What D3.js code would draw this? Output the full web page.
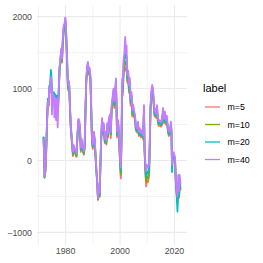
<!DOCTYPE html>
<html>
<head>
<meta charset="utf-8">
<script src="https://cdn.jsdelivr.net/npm/d3@7"></script>
<style>
  body { margin: 0; background: #fff; }
  svg text { font-family: "Liberation Sans", Arial, sans-serif; }
</style>
</head>
<body>
<svg id="chart" width="263" height="263"></svg>
<script>
// time points (decimal years), shared by all series
const years = [
  1971.9, 1972.1, 1972.3, 1972.6, 1972.9, 1973.2, 1973.5, 1973.8, 1974.0, 1974.3, 1974.6, 1974.8,
  1975.0, 1975.2, 1975.5, 1975.7, 1975.9, 1976.2, 1976.5, 1976.8, 1977.1, 1977.3, 1977.5, 1977.8,
  1978.1, 1978.4, 1978.7, 1978.9, 1979.3, 1979.6, 1979.9, 1980.2, 1980.5, 1980.8, 1981.0, 1981.3,
  1981.6, 1981.9, 1982.3, 1982.7, 1983.0, 1983.4, 1983.7, 1984.0, 1984.4, 1984.7, 1985.0, 1985.3,
  1985.6, 1985.9, 1986.3, 1986.7, 1987.0, 1987.3, 1987.6, 1987.9, 1988.2, 1988.5, 1988.8, 1989.1,
  1989.4, 1989.7, 1990.0, 1990.4, 1990.7, 1991.0, 1991.3, 1991.6, 1991.9, 1992.2, 1992.5, 1992.8,
  1993.1, 1993.4, 1993.7, 1994.0, 1994.4, 1994.7, 1995.0, 1995.3, 1995.6, 1995.9, 1996.3, 1996.6,
  1996.9, 1997.2, 1997.6, 1997.9, 1998.2, 1998.5, 1998.7, 1998.9, 1999.3, 1999.7, 2000.0, 2000.3,
  2000.6, 2000.8, 2001.0, 2001.3, 2001.6, 2001.9, 2002.1, 2002.4, 2002.7, 2003.0, 2003.3, 2003.6,
  2003.9, 2004.2, 2004.5, 2004.8, 2005.2, 2005.5, 2005.8, 2006.2, 2006.6, 2006.9, 2007.3, 2007.7,
  2008.1, 2008.5, 2008.8, 2009.0, 2009.3, 2009.6, 2009.9, 2010.3, 2010.7, 2011.0, 2011.2, 2011.5,
  2011.8, 2012.1, 2012.4, 2012.7, 2013.0, 2013.3, 2013.6, 2013.9, 2014.2, 2014.6, 2015.0, 2015.4,
  2015.8, 2016.1, 2016.5, 2016.8, 2017.2, 2017.5, 2017.9, 2018.3, 2018.7, 2018.9, 2019.1, 2019.4,
  2019.8, 2020.2, 2020.5, 2020.8, 2021.1, 2021.4, 2021.7, 2021.9, 2022.2
];

const m5 = [
  310, 90, -230, -150, 130, 520, 820, 760, 970, 950, 1110, 1050,
  790, 870, 870, 870, 750, 820, 710, 800, 660, 750, 950, 1250,
  1360, 1480, 1360, 1560, 1780, 1820, 1920, 1720, 1400, 1040, 970, 1030,
  720, 440, 250, 60, 160, 100, 80, 50, 340, 520, 500, 390,
  120, 240, 140, 80, 160, 640, 1080, 1240, 1300, 1190, 1230, 1130,
  710, 240, 160, 340, 240, 40, -160, -310, -550, -410, -510, -80,
  290, 530, 360, 460, 240, 340, 220, 460, 320, 520, 560, 310,
  670, 770, 910, 730, 860, 1050, 720, 320, 490, 250, -60, -250,
  400, 980, 900, 1180, 1260, 1300, 1250, 1280, 1080, 1140, 940, 1040,
  760, 850, 610, 690, 600, 570, 420, 390, 480, 340, 390, 320,
  360, 290, 700, 130, -170, -360, -280, -300, -200, 330, 700, 880,
  970, 930, 750, 610, 650, 590, 700, 520, 480, 490, 470, 490,
  660, 520, 610, 500, 560, 430, 340, 360, 480, 360, -90, 80,
  50, -20, -320, -470, -560, -350, -520, -320, -400
];

const m10 = [
  330, 100, -240, -140, 150, 550, 840, 780, 1000, 980, 1160, 1100,
  840, 900, 900, 900, 800, 840, 760, 850, 710, 780, 970, 1270,
  1380, 1500, 1380, 1590, 1810, 1850, 1950, 1740, 1430, 1080, 990, 1050,
  740, 460, 270, 80, 180, 120, 100, 60, 360, 540, 520, 410,
  140, 260, 160, 90, 180, 660, 1100, 1260, 1330, 1210, 1250, 1150,
  730, 260, 180, 360, 260, 60, -140, -300, -540, -390, -500, -60,
  310, 550, 380, 480, 260, 360, 240, 480, 340, 550, 600, 360,
  700, 800, 940, 770, 890, 1080, 750, 350, 510, 270, -30, -200,
  420, 1020, 950, 1250, 1340, 1380, 1330, 1350, 1110, 1170, 970, 1070,
  790, 880, 640, 720, 620, 590, 440, 410, 500, 360, 410, 340,
  380, 310, 720, 150, -130, -300, -220, -250, -160, 350, 720, 900,
  1000, 950, 770, 630, 670, 610, 720, 540, 500, 510, 490, 510,
  680, 540, 630, 520, 580, 450, 360, 380, 500, 380, -100, 90,
  60, 0, -300, -450, -600, -330, -500, -300, -420
];

const m20 = [
  330, 110, -230, -120, 170, 580, 860, 820, 1040, 1030, 1260, 1180,
  920, 950, 940, 950, 900, 920, 880, 900, 810, 860, 1000, 1300,
  1400, 1530, 1400, 1620, 1840, 1870, 1970, 1770, 1460, 1110, 1010, 1070,
  760, 480, 290, 100, 200, 140, 110, 80, 380, 560, 540, 430,
  160, 280, 180, 110, 200, 680, 1120, 1280, 1350, 1230, 1270, 1170,
  750, 280, 200, 380, 280, 80, -120, -280, -530, -370, -480, -40,
  330, 570, 400, 500, 280, 380, 260, 500, 360, 570, 620, 380,
  730, 830, 970, 790, 920, 1110, 770, 370, 530, 290, 0, -150,
  450, 1080, 1000, 1320, 1420, 1480, 1420, 1450, 1140, 1200, 1000, 1100,
  820, 910, 670, 750, 650, 610, 460, 420, 510, 370, 420, 350,
  390, 320, 740, 170, -80, -230, -150, -180, -110, 370, 740, 920,
  1020, 970, 790, 650, 690, 620, 740, 560, 520, 530, 500, 530,
  700, 550, 650, 530, 590, 460, 370, 390, 510, 390, -160, 100,
  80, 20, -280, -480, -710, -300, -480, -260, -380
];

const m40 = [
  310, 100, -220, -100, 170, 550, 820, 760, 1000, 950, 1160, 1100,
  640, 950, 820, 900, 600, 870, 560, 850, 460, 780, 1000, 1300,
  1420, 1560, 1420, 1650, 1880, 1900, 1990, 1800, 1500, 1160, 1050, 1100,
  780, 500, 310, 120, 215, 160, 130, 100, 400, 580, 560, 450,
  180, 300, 200, 130, 220, 700, 1140, 1300, 1370, 1250, 1290, 1190,
  770, 300, 220, 400, 300, 100, -100, -250, -520, -330, -450, -20,
  350, 590, 420, 520, 300, 400, 280, 520, 380, 590, 640, 400,
  760, 860, 1000, 820, 950, 1140, 800, 400, 560, 310, 50, -100,
  500, 1140, 1050, 1400, 1500, 1720, 1500, 1600, 1190, 1250, 1050, 1150,
  860, 950, 700, 780, 680, 640, 490, 450, 540, 400, 450, 380,
  420, 350, 770, 200, -20, -150, -60, -100, -50, 400, 770, 950,
  1050, 1000, 820, 680, 720, 650, 770, 590, 550, 560, 530, 560,
  730, 580, 680, 560, 620, 490, 400, 420, 540, 420, -60, 120,
  100, 50, -240, -400, -500, -200, -420, -200, -330
];

const seriesNames = ["m=5", "m=10", "m=20", "m=40"];
const seriesValues = [m5, m10, m20, m40];
const colors = ["#F8766D", "#7CAE00", "#00BFC4", "#C77CFF"];

const xMajor = [1980, 2000, 2020];
const xMinor = [1970, 1990, 2010];
const yMajor = [-1000, 0, 1000, 2000];
const yMinor = [-500, 500, 1500];

const svg = d3.select("#chart");
const panel = { left: 37, right: 187, top: 5.5, bottom: 245 };

const x = d3.scaleLinear().domain([1969.5, 2024.6]).range([panel.left, panel.right]);
const y = d3.scaleLinear().domain([-1175, 2155]).range([panel.bottom, panel.top]);

// grid
const grid = svg.append("g");
grid.selectAll(".xminor").data(xMinor).join("line")
  .attr("x1", d => x(d)).attr("x2", d => x(d))
  .attr("y1", panel.top).attr("y2", panel.bottom)
  .attr("stroke", "#ebebeb").attr("stroke-width", 0.6);
grid.selectAll(".yminor").data(yMinor).join("line")
  .attr("y1", d => y(d)).attr("y2", d => y(d))
  .attr("x1", panel.left).attr("x2", panel.right)
  .attr("stroke", "#ebebeb").attr("stroke-width", 0.6);
grid.selectAll(".xmajor").data(xMajor).join("line")
  .attr("x1", d => x(d)).attr("x2", d => x(d))
  .attr("y1", panel.top).attr("y2", panel.bottom)
  .attr("stroke", "#ebebeb").attr("stroke-width", 1.1);
grid.selectAll(".ymajor").data(yMajor).join("line")
  .attr("y1", d => y(d)).attr("y2", d => y(d))
  .attr("x1", panel.left).attr("x2", panel.right)
  .attr("stroke", "#ebebeb").attr("stroke-width", 1.1);

// lines
const line = d3.line()
  .x((d, i) => x(years[i]))
  .y(d => y(d));

svg.append("g").selectAll("path").data(seriesValues).join("path")
  .attr("d", d => line(d))
  .attr("fill", "none")
  .attr("stroke", (d, i) => colors[i])
  .attr("stroke-width", 1.8)
  .attr("stroke-linejoin", "round");

// axis labels
const fmt = d => d < 0 ? "\u2212" + Math.abs(d) : String(d);
svg.append("g").selectAll("text").data(yMajor).join("text")
  .attr("x", 32).attr("y", d => y(d) + 3.2)
  .attr("text-anchor", "end")
  .attr("font-size", 8.8).attr("fill", "#4d4d4d")
  .text(fmt);
svg.append("g").selectAll("text").data(xMajor).join("text")
  .attr("x", d => x(d)).attr("y", 253.5)
  .attr("text-anchor", "middle")
  .attr("font-size", 8.8).attr("fill", "#4d4d4d")
  .text(d => d);

// legend
const legend = svg.append("g").attr("transform", "translate(203,0)");
legend.append("text").attr("x", 0).attr("y", 92)
  .attr("font-size", 11).attr("fill", "#000").text("label");
const item = legend.selectAll(".item").data(seriesNames).join("g")
  .attr("transform", (d, i) => `translate(0,${107 + i * 17.5})`);
item.append("line")
  .attr("x1", 2).attr("x2", 17).attr("y1", 0).attr("y2", 0)
  .attr("stroke", (d, i) => colors[i]).attr("stroke-width", 1.3);
item.append("text").attr("x", 24.5).attr("y", 3.2)
  .attr("font-size", 8.8).attr("fill", "#000").text(d => d);
</script>
</body>
</html>
